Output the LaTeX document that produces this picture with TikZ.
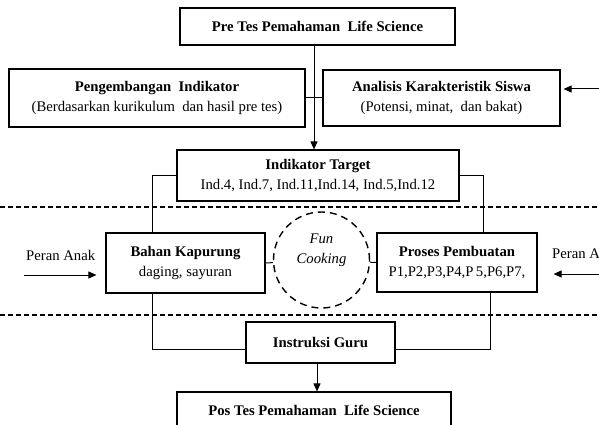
\documentclass[tikz,border=0pt]{standalone}
\usepackage{fontspec}
\setmainfont{Liberation Serif}
\usepackage{tikz}
\usetikzlibrary{arrows.meta}
\tikzstyle{diagram} = [x = 1pt, y = -1pt]
\tikzstyle{boxStyle} = [draw, line width = 1.2pt, align = center, inner sep = 0pt, font = \fontsize{14.7}{19.5}\selectfont]
\tikzstyle{flowLine} = [line width = 1pt]
\tikzstyle{flowArrow} = [line width = 1pt, -{Triangle[length = 8pt, width = 7pt]}]
\tikzstyle{dashedLine} = [line width = 1.1pt, dash pattern = on 5pt off 3pt]
\tikzstyle{funCircle} = [draw, circle, line width = 1.4pt, dash pattern = on 7pt off 5pt, minimum size = 96pt, inner sep = 0pt]
\tikzstyle{funText} = [align = center, font = \fontsize{14.7}{20}\selectfont\itshape]
\tikzstyle{anakText} = [anchor = base west, inner sep = 0pt, font = \fontsize{14.7}{19.5}\selectfont]
\newcommand{\flowBox}[6]{\node [boxStyle, minimum width = #4pt, minimum height = #5pt] (#1) at (#2,#3) {#6};}
\newcommand{\dashedRule}[1]{\draw [dashedLine] (0,#1) -- + (599,0);}

\begin{document}
\begin{tikzpicture}[diagram]
        \useasboundingbox (0,0) rectangle (599,425);
        \flowBox{pre}{317.5}{26.5}{275}{37}{\textbf{Pre Tes Pemahaman\ \ Life Science}}
        \flowBox{kembang}{157}{98}{296}{58}{\textbf{Pengembangan\ \ Indikator}\\(Berdasarkan kurikulum\ \ dan hasil pre tes)}
        \flowBox{analisis}{441.5}{98}{237}{56}{\textbf{Analisis Karakteristik Siswa}\\(Potensi, minat,\ \ dan bakat)}
        \flowBox{target}{318}{175.5}{282}{51}{\textbf{Indikator Target}\\Ind.4, Ind.7, Ind.11,Ind.14, Ind.5,Ind.12}
        \flowBox{bahan}{185.5}{263}{159}{60}{\textbf{Bahan Kapurung}\\daging, sayuran}
        \flowBox{proses}{457}{262.5}{160}{59}{\textbf{Proses Pembuatan}\\P1,P2,P3,P4,P\,5,P6,P7,}
        \flowBox{guru}{320.5}{342.5}{149}{41}{\textbf{Instruksi Guru}}
        \flowBox{pos}{314}{410.5}{274}{37}{\textbf{Pos Tes Pemahaman\ \ Life Science}}

        \node [funCircle] (fun) at (321.5,260) {};
        \node [funText] (funLabel) at (321.5,250) {Fun\\Cooking};

        \dashedRule{207}
        \dashedRule{315}

        \coordinate (preOut) at ([xshift = -3.5pt]pre.south);
        \draw [flowArrow] (preOut) -- (preOut |- target.north);
        \draw [flowLine] (kembang.east) -- (analisis.west);
        \coordinate (siswaIn) at (599,89);
        \draw [flowArrow, shorten >= 3pt] (siswaIn) -- (siswaIn -| analisis.east);

        \draw [flowLine] (target.west) -| ([xshift = -33.5pt]bahan.north);
        \draw [flowLine] (target.east) -| ([xshift = 26pt]proses.north);
        \draw [flowLine] (bahan.east) -- (fun);
        \draw [flowLine] (fun) -- (proses.west);
        \draw [flowLine] ([xshift = -33.5pt]bahan.south) |- ([yshift = -6.5pt]guru.west);
        \draw [flowLine] ([xshift = 33pt]proses.south) |- ([yshift = -6.5pt]guru.east);
        \coordinate (guruOut) at ([xshift = -3.5pt]guru.south);
        \draw [flowArrow] (guruOut) -- (guruOut |- pos.north);

        \coordinate (anakLeft) at (24,275);
        \draw [flowArrow, shorten >= 9pt] (anakLeft) -- (anakLeft -| bahan.west);
        \node [anakText] (anakLabelLeft) at (26,260) {Peran Anak};
        \coordinate (anakRight) at (599,274);
        \draw [flowArrow, shorten >= 16pt] (anakRight) -- (anakRight -| proses.east);
        \node [anakText] (anakLabelRight) at (552,258) {Peran Anak};
      \end{tikzpicture}
\end{document}
